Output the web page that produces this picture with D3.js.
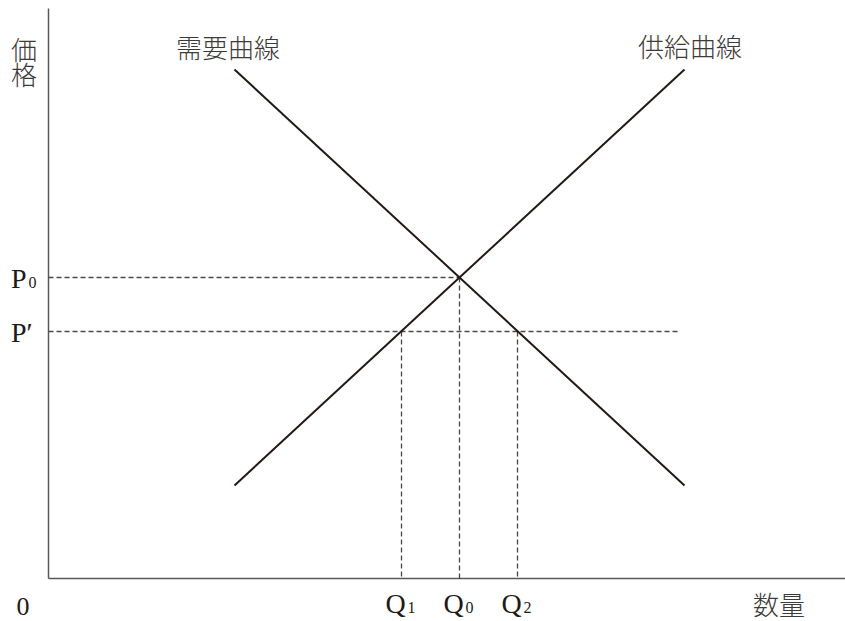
<!DOCTYPE html>
<html><head><meta charset="utf-8">
<script src="https://cdn.jsdelivr.net/npm/d3@7"></script>
<style>
html,body{margin:0;padding:0;background:#fff;}
svg{display:block;}
.cjk{font-family:"Noto Sans CJK JP","Noto Sans CJK SC",sans-serif;font-weight:300;fill:#3e3a39;}
.ser{font-family:"Liberation Serif","DejaVu Serif",serif;fill:#231815;}
</style></head>
<body>
<svg id="c" width="845" height="621"></svg>
<script>
// Data (units: quantity and price)
const demand = [{q:37.2, p:101.8},{q:127.2, p:18.6}];
const supply = [{q:37.2, p:18.6},{q:127.2, p:101.8}];
const P0 = 60.2, Pprime = 49.4;
const Q0 = 82.2, Q1 = 70.6, Q2 = 93.8;
const pRefEnd = 126.4; // end of P' guide line
const curveLabels = ["需要曲線","供給曲線"];
const axisLabels = {x:"数量", y:"価格", origin:"0"};
const qTicks = [{v:Q1, n:"Q", s:"1"},{v:Q0, n:"Q", s:"0"},{v:Q2, n:"Q", s:"2"}];
const pTicks = [{v:P0, n:"P", s:"0"},{v:Pprime, n:"P′", s:""}];

const svg = d3.select("#c");
const x = d3.scaleLinear().domain([0, 159.4]).range([48.5, 845.5]);
const y = d3.scaleLinear().domain([0, 114]).range([578.5, 8.5]);

const axisCol = "#595757", lineCol = "#231815";

// axes
svg.append("line").attr("x1",x(0)).attr("x2",x(0)).attr("y1",y(114)).attr("y2",y(0))
  .attr("stroke",axisCol).attr("stroke-width",1.5);
svg.append("line").attr("x1",x(0)).attr("x2",x(159.4)).attr("y1",y(0)).attr("y2",y(0))
  .attr("stroke",axisCol).attr("stroke-width",1.5);

// dashed guides
const dash = "5,3";
function dl(x1,y1,x2,y2){
  svg.append("line").attr("x1",x1).attr("y1",y1).attr("x2",x2).attr("y2",y2)
    .attr("stroke","#4a4747").attr("stroke-width",1.3).attr("stroke-dasharray",dash);
}
dl(x(0), y(P0), x(Q0), y(P0));
dl(x(0), y(Pprime), x(pRefEnd), y(Pprime));
dl(x(Q0), y(P0), x(Q0), y(0));
dl(x(Q1), y(Pprime), x(Q1), y(0));
dl(x(Q2), y(Pprime), x(Q2), y(0));

// curves
const line = d3.line().x(d=>x(d.q)).y(d=>y(d.p));
[demand, supply].forEach(s=>{
  svg.append("path").attr("d", line(s)).attr("fill","none")
    .attr("stroke",lineCol).attr("stroke-width",2);
});

// curve labels
svg.append("text").attr("class","cjk").attr("x",228).attr("y",58).attr("text-anchor","middle")
  .attr("font-size",26).text(curveLabels[0]);
svg.append("text").attr("class","cjk").attr("x",690).attr("y",57).attr("text-anchor","middle")
  .attr("font-size",26).text(curveLabels[1]);

// axis labels
svg.append("text").attr("class","cjk").attr("x",24).attr("y",37)
  .attr("font-size",26).style("writing-mode","vertical-rl").attr("letter-spacing",-1)
  .text(axisLabels.y);
svg.append("text").attr("class","cjk").attr("x",779).attr("y",615).attr("text-anchor","middle")
  .attr("font-size",26).text(axisLabels.x);
svg.append("text").attr("class","ser").attr("x",23).attr("y",615).attr("text-anchor","middle")
  .attr("font-size",26).text(axisLabels.origin);

// Q ticks labels
qTicks.forEach(t=>{
  const tx = svg.append("text").attr("class","ser").attr("x",x(t.v)-1).attr("y",613)
    .attr("text-anchor","middle").attr("font-size",28);
  tx.append("tspan").text(t.n);
  tx.append("tspan").attr("font-size",16).attr("dx",2).text(t.s);
});
// P ticks labels
pTicks.forEach(t=>{
  const tx = svg.append("text").attr("class","ser").attr("x",11).attr("y",y(t.v)+10)
    .attr("font-size",28);
  tx.append("tspan").text(t.n);
  if (t.s) tx.append("tspan").attr("font-size",16).attr("dx",2).text(t.s);
});
</script>
</body></html>
